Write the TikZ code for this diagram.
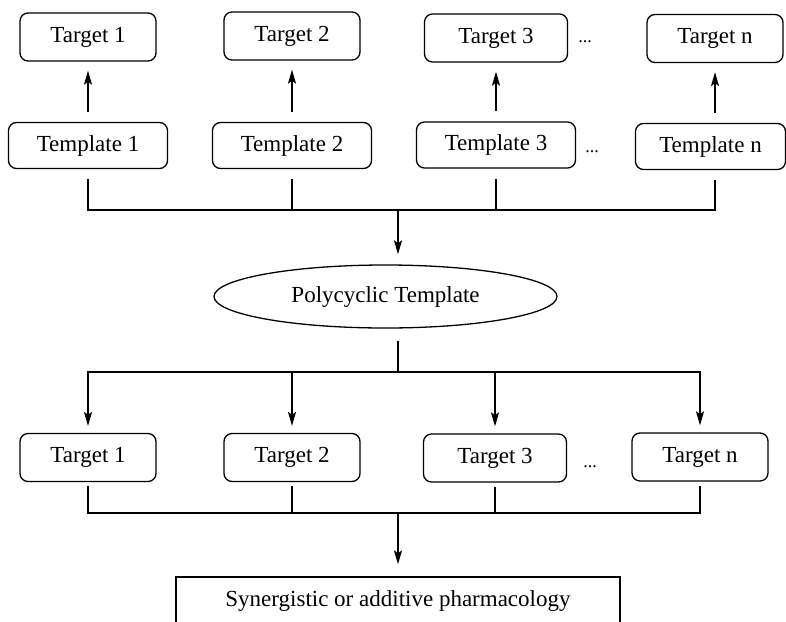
\documentclass[tikz,border=0pt]{standalone}
\usepackage{fontspec}
\setmainfont{Liberation Serif}
\usetikzlibrary{arrows.meta,shapes.geometric}

\begin{document}
\begin{tikzpicture}[x=1pt,y=-1pt,>={Stealth[length=14pt,width=8pt,inset=3pt]},
    font=\fontsize{23}{27}\selectfont,
    tgt/.style={draw,line width=1.3pt,rounded corners=8pt,minimum width=136pt,minimum height=48pt,inner sep=0pt},
    tpl/.style={tgt,minimum width=159pt,minimum height=46pt},
    dotsnode/.style={inner sep=0pt,font=\fontsize{18}{20}\selectfont},
    wire/.style={line width=1.5pt},
    arr/.style={->,line width=1.8pt}]
      \useasboundingbox (0,0) rectangle (786,621);
      \clip (0,0) rectangle (786,621);
      % templates and their targets
      \node[tgt] (ta1) at (88,37) {Target 1};
      \node[tgt] (ta2) at (292,36) {Target 2};
      \node[tgt,minimum width=143pt] (ta3) at (496,38) {Target 3};
      \node[tgt] (tan) at (715,38.5) {Target n};
      \node[dotsnode] (dt1) at (585,42) {...};
      \node[tpl] (tp1) at (88,145.5) {Template 1};
      \node[tpl] (tp2) at (292,145.5) {Template 2};
      \node[tpl] (tp3) at (496,145) {Template 3};
      \node[tpl,minimum width=150pt] (tpn) at (710.5,146.5) {Template n};
      \node[dotsnode] (dt2) at (592,152) {...};
      \draw[arr,shorten <=10pt,shorten >=9pt] (tp1) -- (ta1);
      \draw[arr,shorten <=10pt,shorten >=9pt] (tp2.north -| ta2.south) -- (ta2.south);
      \draw[arr,shorten <=10pt,shorten >=9pt] (tp3.north -| ta3.south) -- (ta3.south);
      \draw[arr,shorten <=10pt,shorten >=9pt] (tpn.north -| tan.south) -- (tan.south);
      % merge into the polycyclic template
      \coordinate (b1) at (398,210);
      \draw[wire,shorten <=10pt,shorten >=10pt] (tp1.south) |- (b1) -| (tan.south |- tpn.south);
      \draw[wire,shorten <=10pt] (tp2.south) -- (tp2.south |- b1);
      \draw[wire,shorten <=10pt] (tp3.south) -- (tp3.south |- b1);
      \node[draw,ellipse,line width=1.3pt,minimum width=343pt,minimum height=63pt,inner sep=0pt]
        (poly) at (385.5,296.5) {Polycyclic Template};
      \draw[arr,shorten >=10pt] (b1) -- (b1 |- poly.north);
      % split to the targets
      \node[tgt] (u1) at (88,457.5) {Target 1};
      \node[tgt] (u2) at (292,457.5) {Target 2};
      \node[tgt,minimum width=143pt] (u3) at (495,458) {Target 3};
      \node[tgt] (un) at (700,457) {Target n};
      \node[dotsnode] (dt3) at (590,467) {...};
      \coordinate (b2) at (398,372);
      \draw[wire,shorten <=12pt] (b2 |- poly.south) -- (b2);
      \draw[arr,shorten >=7pt] (b2) -| (u1.north);
      \draw[arr,shorten >=7pt] (b2) -| (un.north);
      \draw[arr,shorten >=7pt] (u2.north |- b2) -- (u2.north);
      \draw[arr,shorten >=7pt] (u3.north |- b2) -- (u3.north);
      % result
      \coordinate (b3) at (398,513);
      \draw[wire,shorten <=4pt,shorten >=4pt] (u1.south) |- (b3) -| (un.south);
      \draw[wire,shorten <=4pt] (u2.south) -- (u2.south |- b3);
      \draw[wire,shorten <=4pt] (u3.south) -- (u3.south |- b3);
      \node[draw,line width=1.3pt,minimum width=444pt,minimum height=47pt,inner sep=0pt]
        (res) at (398,600.5) {Synergistic or additive pharmacology};
      \draw[arr,shorten >=12pt] (b3) -- (b3 |- res.north);
    \end{tikzpicture}
\end{document}
